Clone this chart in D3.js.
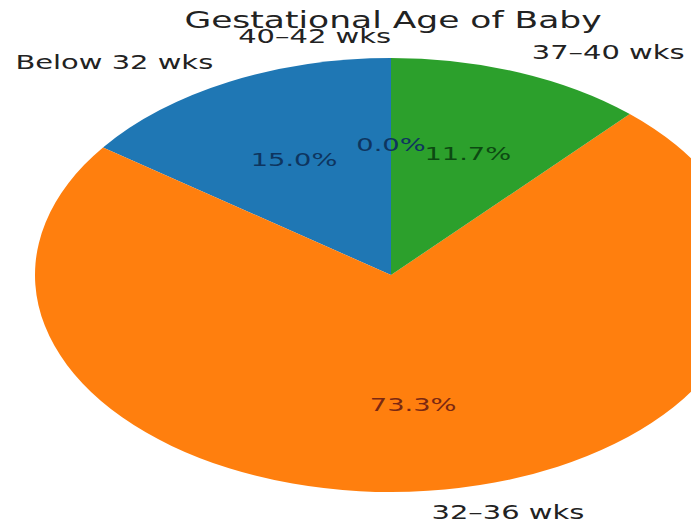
<!DOCTYPE html>
<html>
<head>
<meta charset="utf-8">
<script src="https://cdn.jsdelivr.net/npm/d3@7"></script>
<style>
  html, body { margin: 0; padding: 0; background: #fff; }
  svg { display: block; }
  text { font-family: "DejaVu Sans", sans-serif; }
</style>
</head>
<body>
<svg id="chart" width="691" height="524"></svg>
<script>
const categories = ["Below 32 wks", "32\u201336 wks", "37\u201340 wks", "40\u201342 wks"];
const values = [15.0, 73.3, 11.7, 0.0];
const pctLabels = ["15.0%", "73.3%", "11.7%", "0.0%"];
const colors = ["#1f77b4", "#ff7f0e", "#2ca02c", "#d62728"];
const pctColors = ["#0e355f", "#7a2812", "#0c4a12", "#0e355f"];
const title = "Gestational Age of Baby";

const W = 691, H = 524;
const cx = 391, cy = 275;
const r = 217;            // vertical radius
const sx = 356 / 217;     // elliptical (non-equal aspect) pie
const textStretch = 1.5;  // horizontal stretch of text in the picture

const svg = d3.select("#chart");
svg.append("rect").attr("width", W).attr("height", H).attr("fill", "#fff");

const pie = d3.pie().sort(null).value(d => d).startAngle(0).endAngle(-2 * Math.PI);
const arcs = pie(values);
const arc = d3.arc().innerRadius(0).outerRadius(r);

const g = svg.append("g").attr("transform", `translate(${cx},${cy}) scale(${sx},1)`);
g.selectAll("path").data(arcs).enter().append("path")
  .attr("d", arc)
  .attr("fill", (d, i) => colors[i]);

function pos(d, k) {
  const a = (d.startAngle + d.endAngle) / 2;
  const xo = Math.sin(a);
  return { x: cx + sx * k * r * xo, y: cy - k * r * Math.cos(a), xo: xo };
}

// outer labels
const labFs = 19.3;
svg.selectAll("text.lab").data(arcs).enter().append("text")
  .attr("class", "lab")
  .attr("transform", d => { const p = pos(d, 1.1); return `translate(${p.x},${p.y + 0.36 * labFs}) scale(${textStretch},1)`; })
  .attr("text-anchor", d => pos(d, 1.1).xo > 1e-6 ? "start" : "end")
  .attr("font-size", labFs)
  .attr("fill", "#222")
  .text((d, i) => categories[i]);

// percentage labels
const pctFs = 18.2;
svg.selectAll("text.pct").data(arcs).enter().append("text")
  .attr("class", "pct")
  .attr("transform", d => { const p = pos(d, 0.6); return `translate(${p.x},${p.y + 0.36 * pctFs}) scale(${textStretch},1)`; })
  .attr("text-anchor", "middle")
  .attr("font-size", pctFs)
  .attr("fill", (d, i) => pctColors[i])
  .text((d, i) => pctLabels[i]);

// title
const titleFs = 23;
svg.append("text")
  .attr("transform", `translate(393,28) scale(${textStretch},1)`)
  .attr("text-anchor", "middle")
  .attr("font-size", titleFs)
  .attr("fill", "#222")
  .text(title);
</script>
</body>
</html>
